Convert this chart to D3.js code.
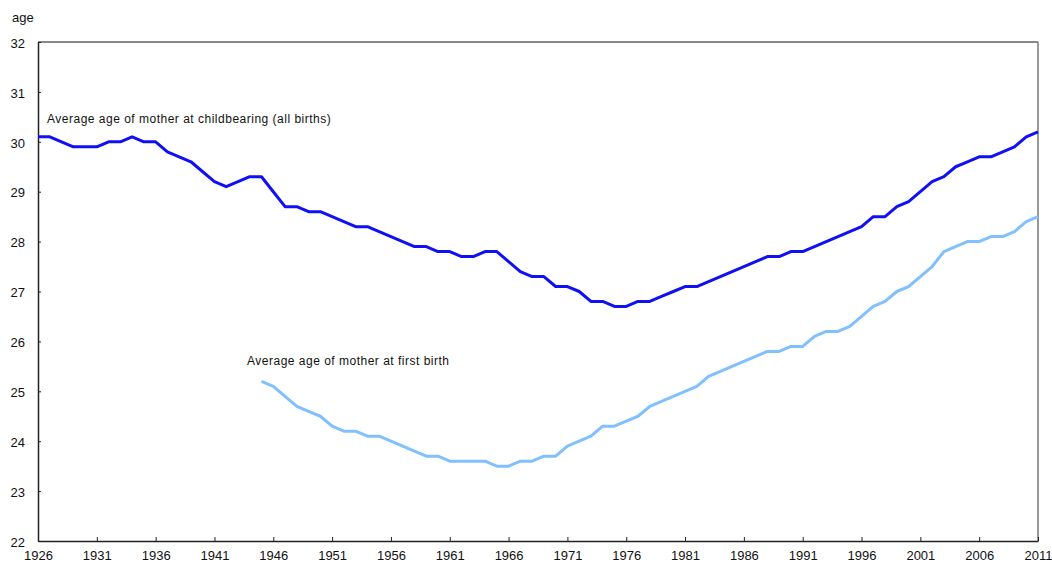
<!DOCTYPE html>
<html>
  <head>
    <meta charset="utf-8">
    <style>
    body {margin:0; background:white;}
    * {font-family: "Liberation Sans", Arial, sans-serif;}
    </style>
  </head>
  <body>
    <div id="chart"></div>
    <script src="https://d3js.org/d3.v7.min.js"></script>
    <script>

  // data: average age of mother, Canada
  var allYears = d3.range(1926, 2012);
  var allBirths = [
    30.1, 30.1, 30.0, 29.9, 29.9, 29.9, 30.0, 30.0, 30.1, 30.0,
    30.0, 29.8, 29.7, 29.6, 29.4, 29.2, 29.1, 29.2, 29.3, 29.3,
    29.0, 28.7, 28.7, 28.6, 28.6, 28.5, 28.4, 28.3, 28.3, 28.2,
    28.1, 28.0, 27.9, 27.9, 27.8, 27.8, 27.7, 27.7, 27.8, 27.8,
    27.6, 27.4, 27.3, 27.3, 27.1, 27.1, 27.0, 26.8, 26.8, 26.7,
    26.7, 26.8, 26.8, 26.9, 27.0, 27.1, 27.1, 27.2, 27.3, 27.4,
    27.5, 27.6, 27.7, 27.7, 27.8, 27.8, 27.9, 28.0, 28.1, 28.2,
    28.3, 28.5, 28.5, 28.7, 28.8, 29.0, 29.2, 29.3, 29.5, 29.6,
    29.7, 29.7, 29.8, 29.9, 30.1, 30.2
  ];

  var firstYears = d3.range(1945, 2012);
  var firstBirth = [
    25.2, 25.1, 24.9, 24.7, 24.6, 24.5, 24.3, 24.2, 24.2, 24.1,
    24.1, 24.0, 23.9, 23.8, 23.7, 23.7, 23.6, 23.6, 23.6, 23.6,
    23.5, 23.5, 23.6, 23.6, 23.7, 23.7, 23.9, 24.0, 24.1, 24.3,
    24.3, 24.4, 24.5, 24.7, 24.8, 24.9, 25.0, 25.1, 25.3, 25.4,
    25.5, 25.6, 25.7, 25.8, 25.8, 25.9, 25.9, 26.1, 26.2, 26.2,
    26.3, 26.5, 26.7, 26.8, 27.0, 27.1, 27.3, 27.5, 27.8, 27.9,
    28.0, 28.0, 28.1, 28.1, 28.2, 28.4, 28.5
  ];

  var xTicks = d3.range(1926, 2012, 5);
  var yTicks = d3.range(22, 33, 1);

  // properties

  var margin = { top: 42, left: 38, right: 14, bottom: 22 },
    width = 1052 - margin.left - margin.right,
    height = 563 - margin.top - margin.bottom;

  var svg = d3.select("#chart")
    .append("svg")
    .attr("width", 1052)
    .attr("height", 563)
    .append("g")
    .attr("transform", "translate(" + margin.left + "," + margin.top + ")");

  var xscale = d3.scaleLinear().domain([1926, 2011]).range([0, width]);
  var yscale = d3.scaleLinear().domain([22, 32]).range([height, 0]);

  // frame: top black, right gray
  svg.append("line")
    .attr("x1", 0).attr("x2", width)
    .attr("y1", 0).attr("y2", 0)
    .attr("stroke", "#111").attr("stroke-width", 1);
  svg.append("line")
    .attr("x1", width).attr("x2", width)
    .attr("y1", 0).attr("y2", height)
    .attr("stroke", "#777").attr("stroke-width", 1.5);

  var yaxis = d3.axisLeft(yscale)
    .tickValues(yTicks)
    .tickSizeInner(-3)
    .tickSizeOuter(0)
    .tickPadding(13)
    .tickFormat(d3.format("d"));

  var xaxis = d3.axisBottom(xscale)
    .tickValues(xTicks)
    .tickSizeInner(-4)
    .tickSizeOuter(0)
    .tickPadding(10)
    .tickFormat(d3.format("d"));

  var gy = svg.append("g").call(yaxis);
  var gx = svg.append("g")
    .attr("transform", "translate(0," + height + ")")
    .call(xaxis);

  [gx, gy].forEach(function(g) {
    g.select(".domain").attr("stroke", "#222").attr("stroke-width", 1.5);
    g.selectAll(".tick line").attr("stroke", "#222");
    g.selectAll("text")
      .attr("font-size", "13px")
      .attr("font-family", "Liberation Sans, Arial, sans-serif")
      .attr("fill", "#111");
  });
  gy.selectAll("text").attr("dy", "0.4em");

  var line = d3.line()
    .x(function(d) { return xscale(d[0]); })
    .y(function(d) { return yscale(d[1]); });

  svg.append("path")
    .datum(firstYears.map(function(y, i) { return [y, firstBirth[i]]; }))
    .attr("d", line)
    .attr("fill", "none")
    .attr("stroke", "#80c0ff")
    .attr("stroke-width", 3)
    .attr("stroke-linejoin", "round");

  svg.append("path")
    .datum(allYears.map(function(y, i) { return [y, allBirths[i]]; }))
    .attr("d", line)
    .attr("fill", "none")
    .attr("stroke", "#1010f5")
    .attr("stroke-width", 3)
    .attr("stroke-linejoin", "round");

  // labels
  svg.append("text")
    .attr("x", 47 - margin.left)
    .attr("y", 123 - margin.top)
    .attr("font-size", "12px")
    .attr("letter-spacing", "0.5px")
    .attr("fill", "#111")
    .text("Average age of mother at childbearing (all births)");

  svg.append("text")
    .attr("x", 247 - margin.left)
    .attr("y", 365 - margin.top)
    .attr("font-size", "12px")
    .attr("letter-spacing", "0.5px")
    .attr("fill", "#111")
    .text("Average age of mother at first birth");

  svg.append("text")
    .attr("x", 12 - margin.left)
    .attr("y", 22 - margin.top)
    .attr("font-size", "13px")
    .attr("fill", "#111")
    .text("age");

    </script>
  </body>
</html>
